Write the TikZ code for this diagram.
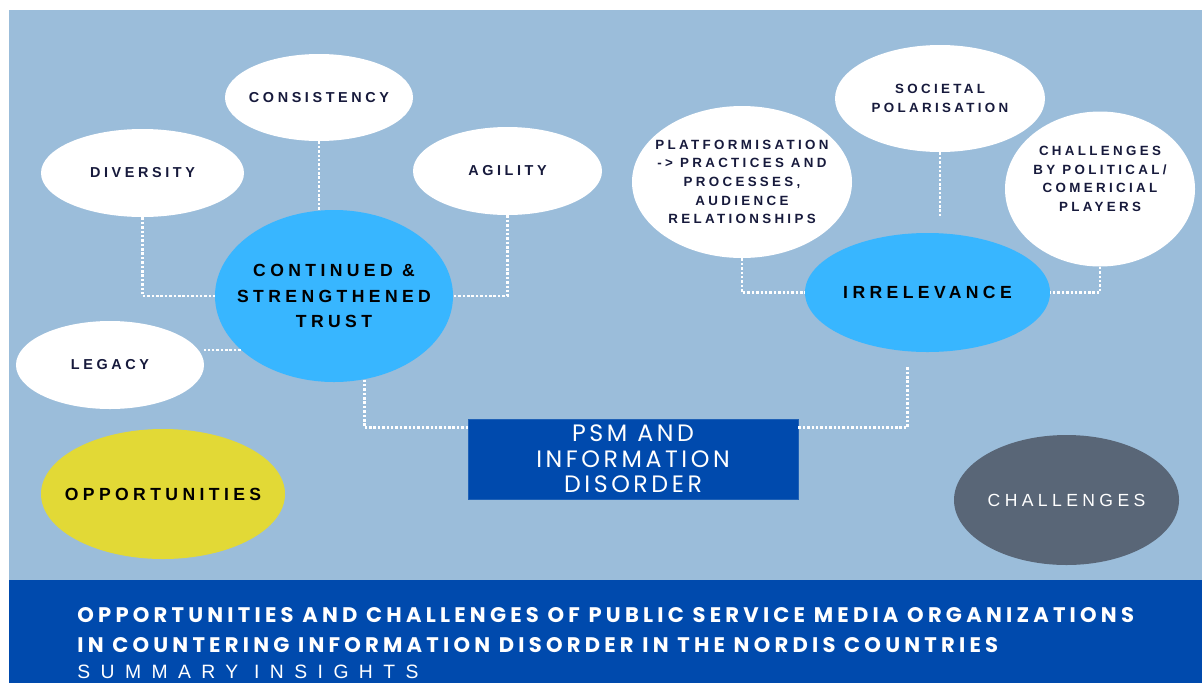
\documentclass[tikz,border=0pt]{standalone}
\usepackage{fontspec}
\setmainfont{Liberation Sans}
\newfontfamily\bubblefont[LetterSpace=25]{Liberation Sans}
\newfontfamily\boxfont[LetterSpace=15]{Poppins}
\newfontfamily\bannerfont[LetterSpace=20]{Poppins}
\newfontfamily\insightfont[LetterSpace=54]{Liberation Sans}
\usetikzlibrary{shapes.geometric}

\definecolor{panel}{HTML}{9BBDDA}
\definecolor{banner}{HTML}{004AAD}
\definecolor{sky}{HTML}{38B6FF}
\definecolor{mustard}{HTML}{E2D936}
\definecolor{slate}{HTML}{596677}
\definecolor{ink}{HTML}{171A3C}

\begin{document}
\begin{tikzpicture}[x=0.02cm, y=-0.02cm,
    bubble/.style={ellipse, fill=white, text=ink, inner xsep=-20*\Unit, inner ysep=0pt, align=center},
    small/.style={font=\bubblefont\bfseries\fontsize{7.6}{10.6}\selectfont},
    word/.style={font=\bubblefont\bfseries\fontsize{8.2}{10}\selectfont},
    key/.style={font=\bubblefont\bfseries\fontsize{10}{14.5}\selectfont},
    headline/.style={anchor=base west, inner sep=0pt, text=white},
    link/.style={draw=white, line width=1.4pt, dash pattern=on 1.4pt off 1.1pt}]
  \newcommand*{\Unit}{0.02cm}
  \useasboundingbox (0,0) rectangle (1202,683);
  \fill[white] (0,0) rectangle (1202,683);
  \fill[panel] (9,10) rectangle (1202,580);
  \fill[banner] (9,580) rectangle (1202,683);

  % opportunities side
  \node[bubble, word, minimum width=188*\Unit, minimum height=87*\Unit] (consistency) at (319,97.5) {CONSISTENCY};
  \node[bubble, word, minimum width=203*\Unit, minimum height=88*\Unit] (diversity) at (142.5,173) {DIVERSITY};
  \node[bubble, word, minimum width=189*\Unit, minimum height=88*\Unit] (agility) at (507.5,171) {AGILITY};
  \node[bubble, word, minimum width=188*\Unit, minimum height=88*\Unit] (legacy) at (110,365) {LEGACY};
  \node[bubble, key, fill=sky, text=black, minimum width=238*\Unit, minimum height=172*\Unit] (trust) at (334,296)
    {CONTINUED \&\\STRENGTHENED\\TRUST};
  \node[bubble, key, fill=mustard, text=black, minimum width=244*\Unit, minimum height=130*\Unit] (opportunities) at (163,494) {OPPORTUNITIES};

  % challenges side
  \node[bubble, small, minimum width=210*\Unit, minimum height=107*\Unit] (societal) at (940,98.5) {SOCIETAL\\POLARISATION};
  \node[bubble, small, minimum width=220*\Unit, minimum height=152*\Unit] (platform) at (742,182)
    {PLATFORMISATION\\-> PRACTICES AND\\PROCESSES,\\AUDIENCE\\RELATIONSHIPS};
  \node[bubble, small, minimum width=190*\Unit, minimum height=155*\Unit] (political) at (1100,189)
    {CHALLENGES\\BY POLITICAL/\\COMERICIAL\\PLAYERS\\[1pt]~};
  \node[bubble, key, fill=sky, text=black, minimum width=245*\Unit, minimum height=119*\Unit] (irrelevance) at (927.5,292.5) {IRRELEVANCE};
  \node[bubble, font=\bubblefont\fontsize{10}{14.5}\selectfont, fill=slate, text=white,
    minimum width=225*\Unit, minimum height=130*\Unit] (challenges) at (1066.5,500) {CHALLENGES};

  % centre box
  \node[fill=banner, draw=banner!80!panel, line width=0.5pt, text=white, align=center,
    minimum width=330*\Unit, minimum height=80*\Unit, inner sep=0pt,
    font=\boxfont\fontsize{13.5}{14.5}\selectfont] (psm) at (633,459) {PSM AND\\INFORMATION\\DISORDER};

  % dotted links
  \draw[link] (consistency.south) -- (consistency.south |- trust.north);
  \draw[link] (diversity.south) |- (trust.west);
  \draw[link] (agility.south) |- (trust.east);
  \draw[link] (trust.210) -- (trust.210 -| legacy.east);
  \draw[link] (trust.290) |- ([yshift=-9*\Unit]psm.north west);
  \coordinate (irrfoot) at ([xshift=-20*\Unit, yshift=-13*\Unit]irrelevance.south);
  \draw[link] ([yshift=-9*\Unit]psm.north east) -| (irrfoot);
  \draw[link] (platform.south) |- (irrelevance.west);
  \coordinate (socfoot) at ([yshift=-64*\Unit]societal.south);
  \draw[link] (societal.south) -- (socfoot);
  \draw[link] (political.south) |- (irrelevance.east);

  % banner
  \node[headline, font=\bannerfont\bfseries\fontsize{12}{13}\selectfont] (title) at (77,622)
    {OPPORTUNITIES AND CHALLENGES OF PUBLIC SERVICE MEDIA ORGANIZATIONS};
  \node[headline, font=\bannerfont\bfseries\fontsize{12}{13}\selectfont] (subtitle) at (77,652)
    {IN COUNTERING INFORMATION DISORDER IN THE NORDIS COUNTRIES};
  \node[headline, font=\insightfont\fontsize{11}{13}\selectfont] (insights) at (77,678)
    {SUMMARY INSIGHTS};
\end{tikzpicture}
\end{document}
